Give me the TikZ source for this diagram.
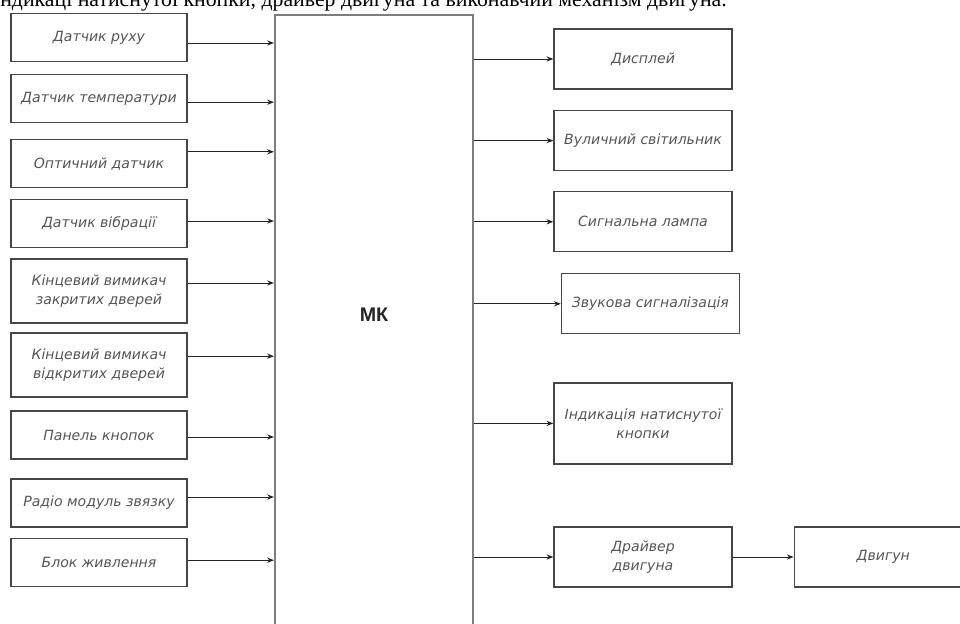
\documentclass[tikz,border=0pt]{standalone}
\usepackage{fontspec}
\setmainfont{Liberation Serif}
\newfontfamily\cadfont{DejaVu Sans}
\newfontfamily\mkfont{Liberation Sans}
\usepackage{tikz}
\usetikzlibrary{arrows.meta, positioning}
\usepackage{xcolor}
\definecolor{BD}{RGB}{70,70,70}
\definecolor{TX}{RGB}{85,85,85}
\definecolor{MB}{RGB}{125,125,125}
\definecolor{AR}{RGB}{35,35,35}

\begin{document}
\begin{tikzpicture}[
  inbox/.style={draw=BD, line width=0.9pt, minimum width=4.4cm, minimum height=1.2cm,
                align=center, inner sep=1pt, text=TX,
                font=\cadfont\itshape\fontsize{10}{13.5}\selectfont},
  inbox2/.style={inbox, minimum height=1.6cm},
  outbox/.style={inbox, minimum width=4.45cm, minimum height=1.5cm},
  mcu/.style={draw=MB, line width=1.5pt, minimum width=4.95cm, minimum height=16.2cm},
  sig/.style={draw=AR, line width=0.7pt, -{Stealth[length=1.7mm, width=1.3mm]}}
]
\useasboundingbox (0,0) rectangle (24,15.575);

\node[anchor=base west, inner sep=0pt, font=\fontsize{15.5}{18}\selectfont] (cap) at (0,15.4)
  {ндикаці натиснутої кнопки, драйвер двигуна та виконавчий механізм двигуна.};

\node[mcu] (mk) at (9.35,7.1) {};
\node[font=\mkfont\bfseries\fontsize{14}{16}\selectfont, text=black!85] (mklabel) at (9.35,7.7) {МК};

\node[inbox]  (s1) at (2.475,14.64) {Датчик руху};
\node[inbox]  (s2) at (2.475,13.11) {Датчик температури};
\node[inbox]  (s3) at (2.475,11.48) {Оптичний датчик};
\node[inbox]  (s4) at (2.475,9.98)  {Датчик вібрації};
\node[inbox2] (s5) at (2.475,8.30)  {Кінцевий вимикач\\закритих дверей};
\node[inbox2] (s6) at (2.475,6.45)  {Кінцевий вимикач\\відкритих дверей};
\node[inbox]  (s7) at (2.475,4.70)  {Панель кнопок};
\node[inbox]  (s8) at (2.475,3.00)  {Радіо модуль звязку};
\node[inbox]  (s9) at (2.475,1.51)  {Блок живлення};

\node[outbox] (disp) at (16.075,14.10) {Дисплей};
\node[outbox] (lamp) at (16.075,12.06) {Вуличний світильник};
\node[outbox] (sigl) at (16.075,10.03) {Сигнальна лампа};
\node[outbox] (buzz) at (16.26,7.98)   {Звукова сигналізація};
\node[outbox, minimum height=2.025cm] (ind) at (16.075,4.99) {Індикація натиснутої\\кнопки};
\node[outbox] (drv)  at (16.075,1.65)  {Драйвер\\двигуна};
\node[outbox, right=1.525cm of drv] (mot) {Двигун};

\draw[sig] ([yshift=-1.4mm]s1.east) -- ([yshift=-1.4mm]s1.east -| mk.west);
\draw[sig] ([yshift=-0.9mm]s2.east) -- ([yshift=-0.9mm]s2.east -| mk.west);
\draw[sig] ([yshift=3mm]s3.east)    -- ([yshift=3mm]s3.east -| mk.west);
\draw[sig] ([yshift=0.7mm]s4.east)  -- ([yshift=0.7mm]s4.east -| mk.west);
\draw[sig] ([yshift=2mm]s5.east)    -- ([yshift=2mm]s5.east -| mk.west);
\draw[sig] ([yshift=2.2mm]s6.east)  -- ([yshift=2.2mm]s6.east -| mk.west);
\draw[sig] ([yshift=-0.5mm]s7.east) -- ([yshift=-0.5mm]s7.east -| mk.west);
\draw[sig] ([yshift=1.5mm]s8.east)  -- ([yshift=1.5mm]s8.east -| mk.west);
\draw[sig] ([yshift=0.6mm]s9.east)  -- ([yshift=0.6mm]s9.east -| mk.west);

\draw[sig] (mk.east |- disp.west) -- (disp.west);
\draw[sig] (mk.east |- lamp.west) -- (lamp.west);
\draw[sig] (mk.east |- sigl.west) -- (sigl.west);
\draw[sig] (mk.east |- buzz.west) -- (buzz.west);
\draw[sig] (mk.east |- ind.west)  -- (ind.west);
\draw[sig] (mk.east |- drv.west)  -- (drv.west);
\draw[sig] (drv.east) -- (mot.west);
\end{tikzpicture}
\end{document}
